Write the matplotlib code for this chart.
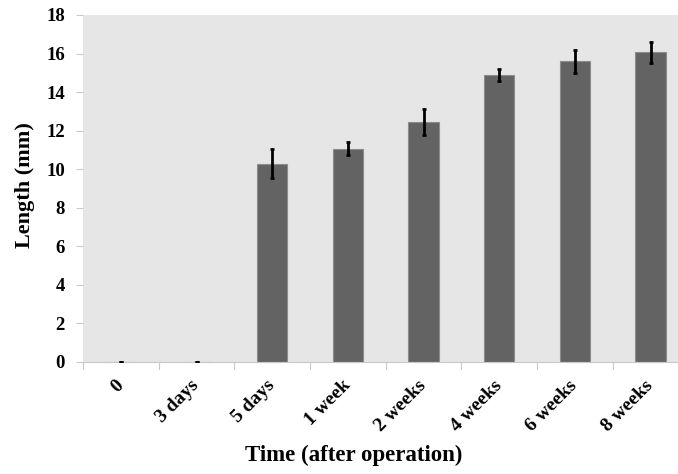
from matplotlib import pyplot as plt

'''
Description: bar chart of length (mm) against time after operation, with error bars
'''

categories = ['0', '3 days', '5 days', '1 week', '2 weeks', '4 weeks', '6 weeks', '8 weeks']
lengths = [0.0, 0.0, 10.28, 11.06, 12.43, 14.9, 15.6, 16.06]
errors = [0.0, 0.0, 0.76, 0.33, 0.67, 0.3, 0.6, 0.54]
y_ticks = [0, 2, 4, 6, 8, 10, 12, 14, 16, 18]

BG_COLOR = '#e6e6e6'
BAR_COLOR = '#636363'
BAR_EDGE = '#8c8c8c'
LINE_COLOR = '#c8c8c8'

plt.rcParams['font.family'] = ['Liberation Serif', 'DejaVu Serif']
plt.rcParams['font.weight'] = 'bold'

fig = plt.figure(figsize=(6.78, 4.74), dpi=100)
# the original plot area runs past the right edge of the picture
ax = fig.add_axes([0.1224, 0.2363, 0.893, 0.7321])
ax.set_facecolor(BG_COLOR)

x = range(len(categories))
ax.bar(x, lengths, width=0.4, color=BAR_COLOR, edgecolor=BAR_EDGE, linewidth=0.8, zorder=2)
ax.errorbar(x, lengths, yerr=errors, fmt='none', ecolor='black', elinewidth=2,
            capsize=1.5, capthick=2, zorder=3)

ax.set_xlim(-0.5, len(categories) - 0.5)
ax.set_ylim(0, 18)
ax.set_yticks(y_ticks)
ax.set_yticklabels([str(t) for t in y_ticks], fontsize=13.5, fontweight='bold')

ax.set_xticks(x)
ax.set_xticklabels(categories, rotation=45, ha='right', va='center', rotation_mode='anchor',
                   fontsize=14, fontweight='bold')
ax.tick_params(axis='x', length=0, pad=15)
ax.tick_params(axis='y', length=5, width=0.8, color=LINE_COLOR, pad=8)

# small separators between categories below the baseline
for i in range(len(categories) + 1):
    ax.plot([i - 0.5, i - 0.5], [0, -0.35], color=LINE_COLOR, linewidth=0.8,
            clip_on=False, zorder=1)

for side in ['top', 'right', 'left']:
    ax.spines[side].set_visible(False)
ax.spines['bottom'].set_color(LINE_COLOR)
ax.spines['bottom'].set_linewidth(0.8)

ax.set_ylabel('Length (mm)', fontsize=16, fontweight='bold')
ax.yaxis.set_label_coords(-0.08, 0.511)
fig.text(0.522, 0.027, 'Time (after operation)', ha='center', va='baseline',
         fontsize=16.5, fontweight='bold')

plt.savefig('out.png', dpi=100)
plt.clf()
